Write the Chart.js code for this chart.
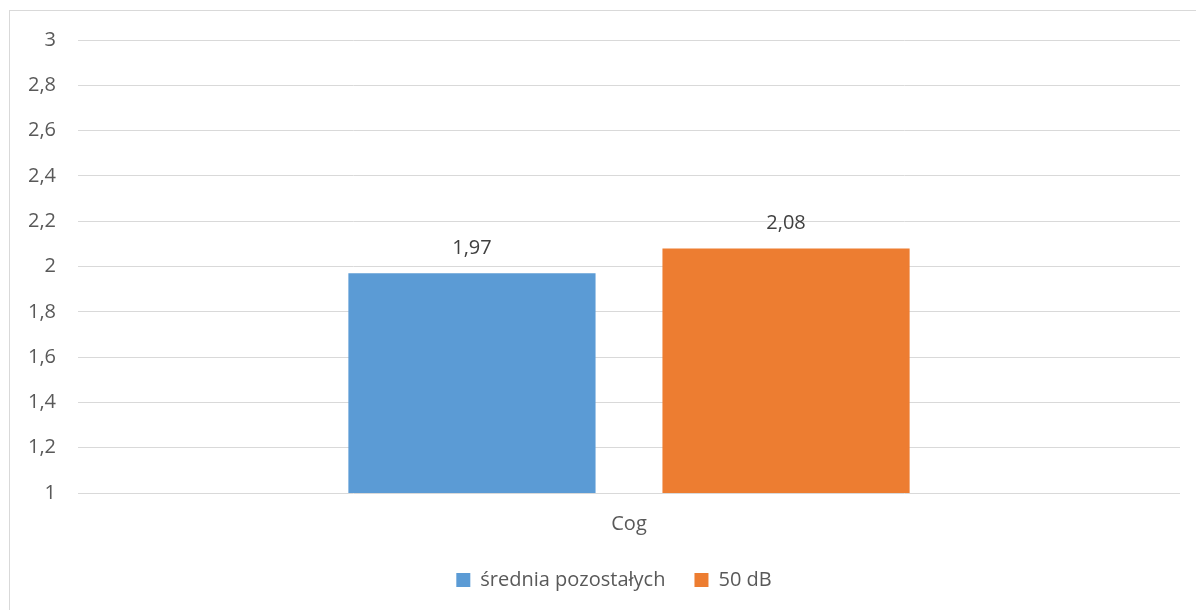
<!DOCTYPE html>
<html>
<head>
<meta charset="utf-8">
<script src="https://cdn.jsdelivr.net/npm/chart.js@4/dist/chart.umd.min.js"></script>
<style>
  html, body { margin: 0; padding: 0; background: #ffffff; }
  #wrap { position: relative; width: 1196px; height: 610px; }
</style>
</head>
<body>
<div id="wrap"><canvas id="chart" width="1196" height="610"></canvas></div>
<script>
// Category and series values
const categories = ['Cog'];
const seriesNames = ['średnia pozostałych', '50 dB'];
const sredniaPozostalych = [1.97];
const db50 = [2.08];
const seriesColors = ['#5B9BD5', '#ED7D31'];

// Y axis range and step
const yMin = 1;
const yMax = 3;
const yStep = 0.2;

const FONT = '"Open Sans", "Noto Sans", sans-serif';
const TEXT_COLOR = '#595959';

const fmt = v => (Math.round(v * 100) / 100).toString().replace('.', ',');

// Thin frame around the chart
const framePlugin = {
  id: 'frame',
  beforeDraw(chart) {
    const ctx = chart.ctx;
    ctx.save();
    ctx.fillStyle = '#ffffff';
    ctx.fillRect(0, 0, chart.width, chart.height);
    ctx.strokeStyle = '#D9D9D9';
    ctx.lineWidth = 1;
    ctx.strokeRect(9.5, 10.5, chart.width + 20, chart.height + 20);
    ctx.restore();
  }
};

// Nudge the legend row so it sits under the plot centre
const legendShift = {
  id: 'legendShift',
  afterLayout(chart) {
    const lg = chart.legend;
    if (lg) {
      lg.left += 24; lg.right += 24;
      lg.top -= 6; lg.bottom -= 6;
    }
  }
};

// Value labels above each bar
const valueLabels = {
  id: 'valueLabels',
  afterDatasetsDraw(chart) {
    const ctx = chart.ctx;
    ctx.save();
    ctx.font = '20px ' + FONT;
    ctx.fillStyle = '#404040';
    ctx.textAlign = 'center';
    ctx.textBaseline = 'middle';
    chart.data.datasets.forEach((ds, i) => {
      chart.getDatasetMeta(i).data.forEach((bar, j) => {
        ctx.fillText(fmt(ds.data[j]), bar.x, bar.y - 25);
      });
    });
    ctx.restore();
  }
};

new Chart(document.getElementById('chart'), {
  type: 'bar',
  data: {
    labels: categories,
    datasets: [
      { label: seriesNames[0], data: sredniaPozostalych, backgroundColor: seriesColors[0] },
      { label: seriesNames[1], data: db50, backgroundColor: seriesColors[1] }
    ]
  },
  options: {
    responsive: false,
    animation: false,
    devicePixelRatio: 1,
    categoryPercentage: 0.57,
    barPercentage: 0.787,
    layout: { padding: { left: 0, right: 16, top: 40, bottom: 11 } },
    plugins: {
      legend: {
        position: 'bottom',
        maxHeight: 52,
        labels: {
          boxWidth: 14,
          boxHeight: 14,
          padding: 29,
          color: TEXT_COLOR,
          font: { family: FONT, size: 20 }
        }
      },
      tooltip: { enabled: false }
    },
    scales: {
      x: {
        grid: { display: false },
        border: { display: false },
        ticks: { color: TEXT_COLOR, font: { family: FONT, size: 20 }, padding: 11 }
      },
      y: {
        min: yMin,
        max: yMax,
        afterFit(scale) { scale.width = 78; },
        grid: { color: '#D9D9D9', lineWidth: 1, drawTicks: false },
        border: { display: false },
        ticks: {
          stepSize: yStep,
          padding: 22,
          color: TEXT_COLOR,
          font: { family: FONT, size: 20 },
          callback: v => fmt(v)
        }
      }
    }
  },
  plugins: [framePlugin, legendShift, valueLabels]
});
</script>
</body>
</html>
